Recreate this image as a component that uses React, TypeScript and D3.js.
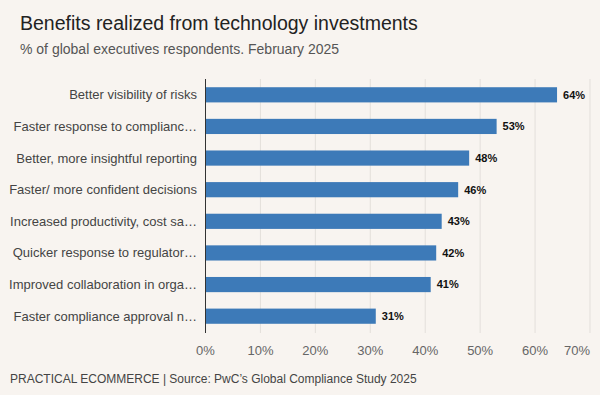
import React from "react";
import * as d3 from "d3";

const categories = [
  "Better visibility of risks",
  "Faster response to complianc…",
  "Better, more insightful reporting",
  "Faster/ more confident decisions",
  "Increased productivity, cost sa…",
  "Quicker response to regulator…",
  "Improved collaboration in orga…",
  "Faster compliance approval n…",
];
const values = [64, 53, 48, 46, 43, 42, 41, 31];
const ticks = [0, 10, 20, 30, 40, 50, 60, 70];

const W = 600;
const H = 395;
const FONT = "'Liberation Sans', Arial, Helvetica, sans-serif";

export default function App() {
  const x = d3.scaleLinear().domain([0, 70]).range([205.5, 590]);
  const y = d3.scaleBand().domain(categories).range([79, 332]).paddingInner(0.52).paddingOuter(0.26);
  return (
    <svg width={W} height={H} style={{ position: "absolute", left: 0, top: 0, background: "#f8f4f0" }}>
      <rect width={W} height={H} fill="#f8f4f0" />
      <text x={20} y={30} fontFamily={FONT} fontSize={19.5} fill="#222">
        Benefits realized from technology investments
      </text>
      <text x={20} y={54} fontFamily={FONT} fontSize={14} fill="#555">
        % of global executives respondents. February 2025
      </text>
      {ticks.map((t) =>
        t === 0 ? null : (
          <line key={t} x1={x(t)} x2={x(t)} y1={79} y2={333} stroke="#e3dfdb" strokeWidth={1} />
        )
      )}
      {categories.map((c, i) => (
        <g key={c}>
          <rect x={x(0)} y={y(c)!} width={x(values[i]) - x(0)} height={y.bandwidth()} fill="#3d7ab8" />
          <text
            x={x(values[i]) + 6}
            y={y(c)! + y.bandwidth() / 2}
            dy="0.35em"
            fontFamily={FONT}
            fontSize={11}
            fontWeight="bold"
            fill="#111"
          >
            {values[i]}%
          </text>
          <text
            x={197}
            y={y(c)! + y.bandwidth() / 2}
            dy="0.35em"
            textAnchor="end"
            fontFamily={FONT}
            fontSize={13}
            fill="#444"
          >
            {c}
          </text>
        </g>
      ))}
      <line x1={x(0)} x2={x(0)} y1={79} y2={333} stroke="#333" strokeWidth={1} />
      {ticks.map((t, i) => (
        <text
          key={t}
          x={x(t)}
          y={355}
          textAnchor={i === ticks.length - 1 ? "end" : "middle"}
          fontFamily={FONT}
          fontSize={13}
          fill="#666"
        >
          {t}%
        </text>
      ))}
      <text x={10} y={383} fontFamily={FONT} fontSize={12} fill="#444">
        PRACTICAL ECOMMERCE | Source: PwC’s Global Compliance Study 2025
      </text>
    </svg>
  );
}
